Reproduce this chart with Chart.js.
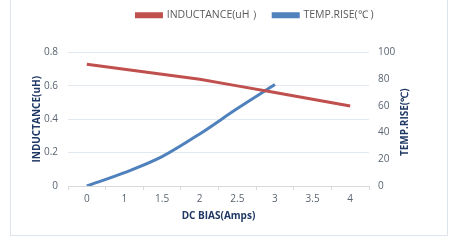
<!DOCTYPE html>
<html>
<head>
<meta charset="utf-8">
<script src="https://cdn.jsdelivr.net/npm/chart.js@4/dist/chart.umd.min.js"></script>
<style>
  html, body { margin: 0; padding: 0; background: #fff; }
  #wrap { position: relative; width: 454px; height: 243px; }
  #frame { position: absolute; left: 10px; top: -2px; width: 436px; height: 237px;
           border: 1px solid #dde4ec; border-top: none; }
  canvas { position: absolute; left: 0; top: 0; }
</style>
</head>
<body>
<div id="wrap">
  <div id="frame"></div>
  <canvas id="myChart" width="454" height="243"></canvas>
</div>
<script>
// data
const dcBias = ['0', '1', '1.5', '2', '2.5', '3', '3.5', '4'];
const inductance = [0.73, 0.70, 0.67, 0.64, 0.60, 0.56, 0.52, 0.48];
const tempRise = [0, 10, 22, 39, 58, 76];

const leftTicks = [0, 0.2, 0.4, 0.6, 0.8];
const rightTicks = [0, 20, 40, 60, 80, 100];

const tickFont = { family: 'Open Sans', size: 10 };
const titleColor = '#1f3864';

// makes room under the legend and nudges it right like the original
const legendTweak = {
    id: 'legendTweak',
    afterInit(chart) {
        const lg = chart.legend;
        const fit = lg.fit.bind(lg);
        lg.fit = function() { fit(); this.height += 22; };
    },
    afterLayout(chart) {
        chart.legend.left += 28;
        chart.legend.right += 28;
    }
};

// right axis title reads bottom to top, so it is drawn here
const rightTitle = {
    id: 'rightTitle',
    afterDraw(chart) {
        const ctx = chart.ctx;
        const area = chart.chartArea;
        ctx.save();
        ctx.translate(405, (area.top + area.bottom) / 2 + 3);
        ctx.rotate(-Math.PI / 2);
        ctx.font = 'bold 10px "Open Sans"';
        ctx.fillStyle = titleColor;
        ctx.textAlign = 'center';
        ctx.textBaseline = 'middle';
        ctx.fillText('TEMP.RISE(℃)', 0, 0);
        ctx.restore();
    }
};

const ctx = document.getElementById('myChart').getContext('2d');
new Chart(ctx, {
    type: 'line',
    data: {
        labels: dcBias,
        datasets: [{
            label: 'INDUCTANCE(uH ）',
            data: inductance,
            yAxisID: 'y',
            borderColor: '#c0504d',
            backgroundColor: '#c0504d',
            borderWidth: 3,
            pointRadius: 0,
            tension: 0
        }, {
            label: 'TEMP.RISE(℃ )',
            data: tempRise,
            yAxisID: 'y1',
            borderColor: '#4f81bd',
            backgroundColor: '#4f81bd',
            borderWidth: 3,
            pointRadius: 0,
            cubicInterpolationMode: 'monotone'
        }]
    },
    options: {
        responsive: false,
        animation: false,
        layout: { padding: 0 },
        plugins: {
            tooltip: { enabled: false },
            legend: {
                position: 'top',
                labels: {
                    boxWidth: 25,
                    boxHeight: 3,
                    padding: 10,
                    color: '#595959',
                    font: { family: 'Open Sans', size: 10.5 }
                }
            }
        },
        scales: {
            x: {
                offset: true,
                afterFit(s) { s.height = 57; },
                grid: { drawOnChartArea: false, drawTicks: true, tickLength: 4, offset: true, color: '#d9d9d9' },
                border: { display: true, color: '#d9d9d9' },
                ticks: { color: '#5a6472', font: tickFont, padding: 3, maxRotation: 0 },
                title: {
                    display: true,
                    text: 'DC BIAS(Amps)',
                    color: titleColor,
                    font: { family: 'Open Sans', size: 10, weight: 'bold' },
                    padding: { top: 4, bottom: 21 }
                }
            },
            y: {
                position: 'left',
                min: 0,
                max: 0.8,
                afterFit(s) { s.width = 68; },
                afterBuildTicks(s) { s.ticks = leftTicks.map(v => ({ value: v })); },
                grid: { color: '#e3e9f0', drawTicks: false },
                border: { display: false },
                ticks: { color: '#5a6472', font: tickFont, padding: 10 },
                title: {
                    display: true,
                    text: 'INDUCTANCE(uH)',
                    color: titleColor,
                    font: { family: 'Open Sans', size: 10, weight: 'bold' },
                    padding: { top: 31, bottom: 0 }
                }
            },
            y1: {
                position: 'right',
                min: 0,
                max: 100,
                afterFit(s) { s.width = 85; },
                afterBuildTicks(s) { s.ticks = rightTicks.map(v => ({ value: v })); },
                grid: { drawOnChartArea: false, drawTicks: false },
                border: { display: false },
                ticks: { color: '#5a6472', font: tickFont, padding: 9 }
            }
        }
    },
    plugins: [legendTweak, rightTitle]
});
</script>
</body>
</html>
